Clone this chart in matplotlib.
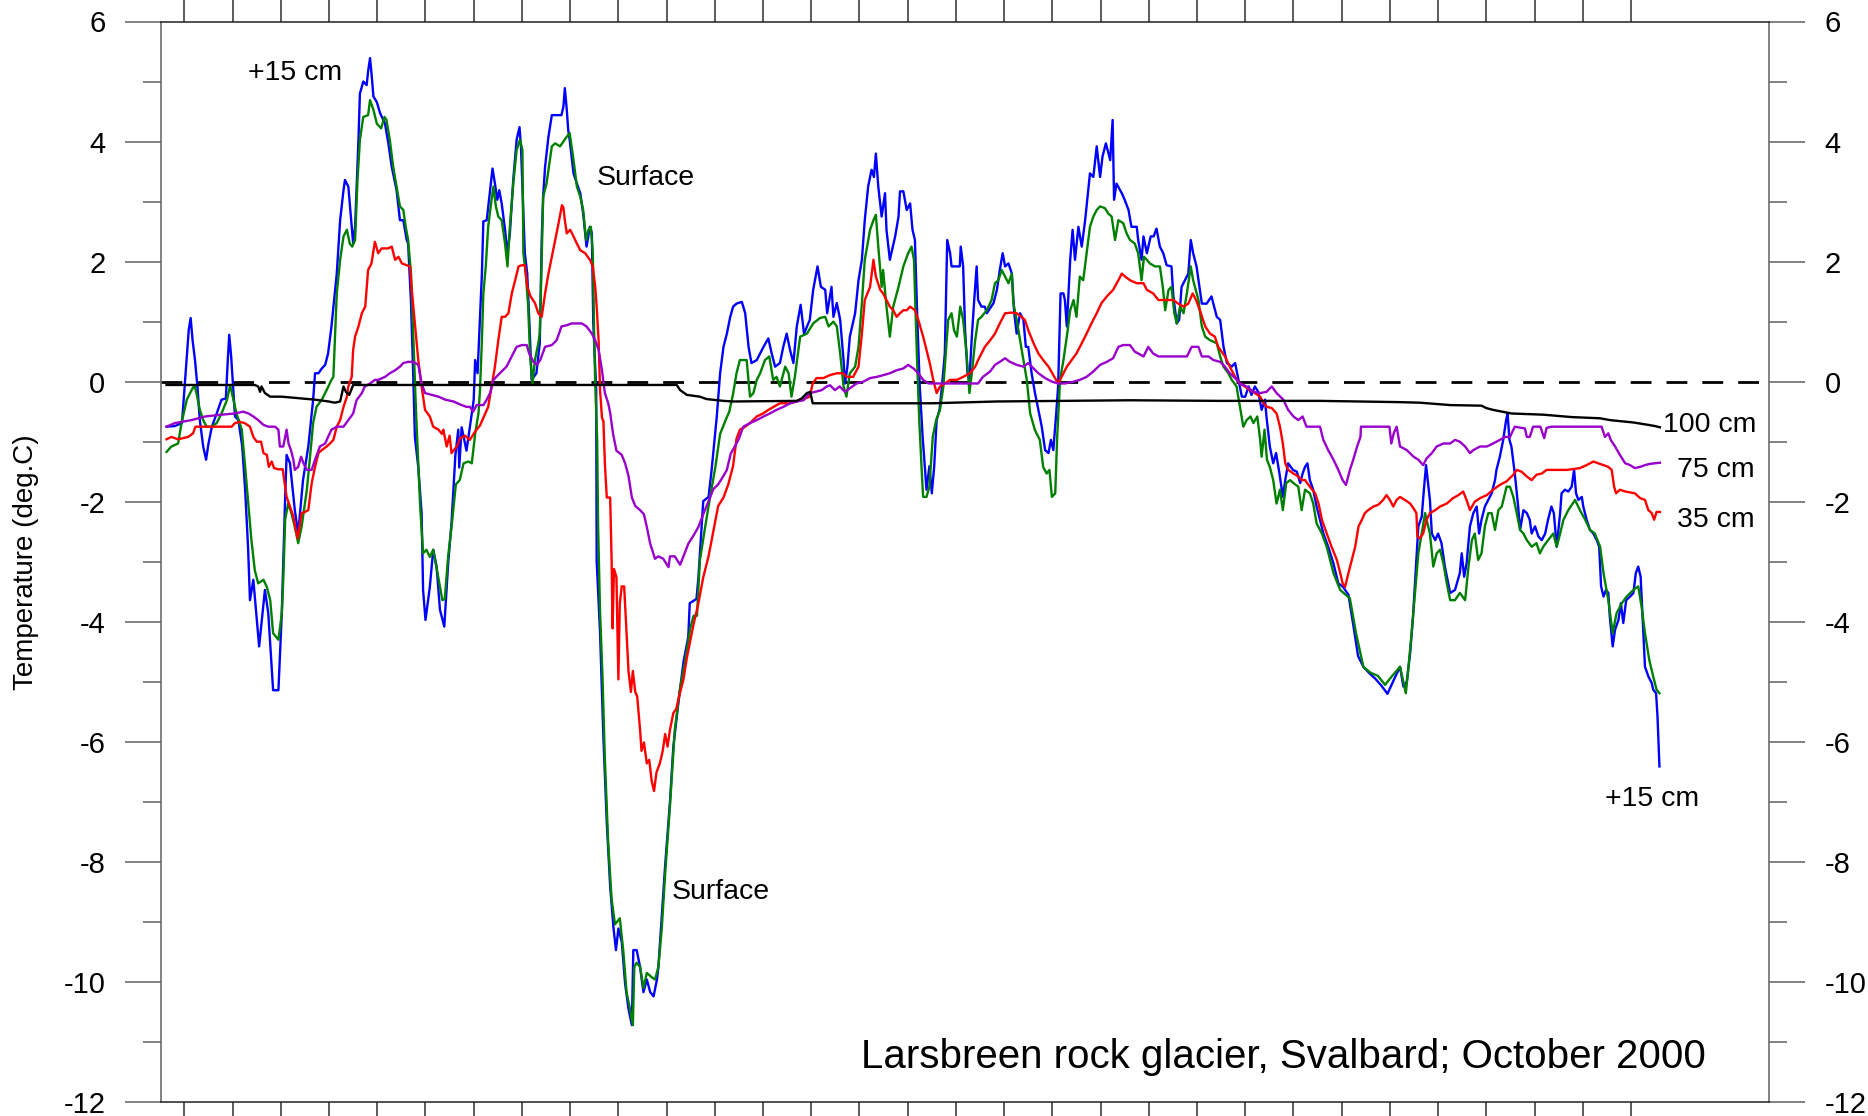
import numpy as np
import matplotlib
matplotlib.use("Agg")
import matplotlib.pyplot as plt

plt.rcParams['font.family'] = ['Liberation Sans', 'DejaVu Sans']
plt.rcParams['axes.unicode_minus'] = False

# temperatures (deg C) against day of October 2000, read from the logger record
plus15_cm = [
    (0.63, -0.75), (0.80, -0.74), (0.95, -0.69), (1.05, 0.42), (1.09, 0.86), (1.13, 1.06),
    (1.17, 0.69), (1.22, 0.36), (1.27, -0.08), (1.32, -0.64), (1.39, -1.08), (1.45, -1.30),
    (1.50, -1.03), (1.57, -0.75), (1.67, -0.53), (1.77, -0.30), (1.86, -0.28), (1.90, 0.36),
    (1.93, 0.78), (1.97, 0.42), (2.01, -0.08), (2.05, -0.58), (2.12, -0.64), (2.20, -1.08),
    (2.26, -1.80), (2.32, -2.75), (2.36, -3.64), (2.43, -3.30), (2.55, -4.41), (2.67, -3.47),
    (2.74, -3.86), (2.84, -5.14), (2.95, -5.14), (3.02, -3.86), (3.09, -1.92), (3.12, -1.22),
    (3.19, -1.36), (3.29, -2.14), (3.36, -2.53), (3.46, -1.64), (3.57, -1.08), (3.67, -0.30),
    (3.71, 0.14), (3.78, 0.14), (3.85, 0.22), (3.92, 0.28), (3.98, 0.47), (4.05, 0.92),
    (4.16, 1.80), (4.23, 2.69), (4.30, 3.19), (4.33, 3.36), (4.40, 3.25), (4.47, 2.58),
    (4.50, 2.30), (4.54, 2.58), (4.61, 4.03), (4.64, 4.80), (4.71, 5.00), (4.78, 4.94),
    (4.81, 5.17), (4.85, 5.39), (4.88, 5.14), (4.92, 4.75), (4.99, 4.66), (5.06, 4.47),
    (5.16, 4.30), (5.23, 3.97), (5.30, 3.58), (5.40, 3.19), (5.47, 2.69), (5.54, 2.69),
    (5.61, 2.36), (5.64, 2.30), (5.70, 1.31), (5.75, 0.00), (5.78, -0.92), (5.85, -1.42),
    (5.92, -2.20), (5.95, -3.47), (6.00, -3.97), (6.09, -3.42), (6.16, -2.80), (6.23, -3.08),
    (6.30, -3.80), (6.39, -4.08), (6.47, -3.03), (6.54, -2.35), (6.62, -1.22), (6.68, -0.80),
    (6.70, -1.43), (6.75, -0.76), (6.85, -1.15), (6.92, -0.76), (7.00, -0.30), (7.03, 0.36),
    (7.08, 0.14), (7.13, 1.08), (7.17, 1.80), (7.20, 2.67), (7.27, 2.69), (7.34, 3.19),
    (7.39, 3.55), (7.44, 3.30), (7.49, 3.03), (7.53, 3.19), (7.58, 2.97), (7.65, 2.53),
    (7.70, 2.14), (7.75, 2.47), (7.82, 3.36), (7.89, 4.03), (7.95, 4.24), (7.98, 3.92),
    (8.06, 2.14), (8.11, 1.80), (8.17, 0.69), (8.20, 0.03), (8.30, 0.14), (8.37, 0.64),
    (8.41, 2.36), (8.44, 3.08), (8.48, 3.58), (8.55, 4.08), (8.62, 4.44), (8.82, 4.44),
    (8.86, 4.58), (8.89, 4.89), (8.93, 4.53), (8.96, 4.19), (8.99, 4.03), (9.07, 3.47),
    (9.14, 3.30), (9.21, 3.14), (9.27, 2.80), (9.34, 2.25), (9.41, 2.58), (9.45, 2.47),
    (9.48, 0.97), (9.54, -0.14), (9.55, -2.98), (9.62, -4.18), (9.69, -5.94), (9.76, -7.35),
    (9.83, -8.41), (9.90, -9.11), (9.95, -9.47), (10.00, -9.11), (10.07, -9.33), (10.14, -10.03),
    (10.21, -10.45), (10.28, -10.72), (10.31, -9.47), (10.38, -9.47), (10.45, -9.75), (10.52, -10.17),
    (10.59, -9.96), (10.66, -10.17), (10.73, -10.24), (10.80, -9.96), (10.83, -9.75), (10.90, -8.90),
    (10.97, -8.06), (11.07, -7.00), (11.14, -6.08), (11.24, -5.38), (11.35, -4.67), (11.45, -4.25),
    (11.48, -3.69), (11.62, -3.62), (11.66, -3.26), (11.76, -1.99), (11.87, -1.92), (11.93, -1.50),
    (12.04, -0.59), (12.11, 0.14), (12.18, 0.58), (12.25, 0.80), (12.32, 1.08), (12.38, 1.25),
    (12.45, 1.30), (12.56, 1.33), (12.63, 1.14), (12.70, 0.58), (12.76, 0.31), (12.87, 0.36),
    (13.01, 0.58), (13.11, 0.72), (13.18, 0.47), (13.25, 0.25), (13.35, 0.31), (13.42, 0.58),
    (13.49, 0.80), (13.56, 0.53), (13.63, 0.31), (13.70, 0.92), (13.78, 1.28), (13.85, 0.80),
    (13.97, 1.03), (14.04, 1.53), (14.13, 1.92), (14.20, 1.58), (14.29, 1.53), (14.33, 1.14),
    (14.42, 1.58), (14.46, 1.08), (14.53, 1.31), (14.60, 1.03), (14.67, 0.36), (14.70, -0.03),
    (14.75, 0.25), (14.80, 0.75), (14.91, 1.14), (14.98, 1.69), (15.05, 2.03), (15.11, 2.69),
    (15.18, 3.25), (15.25, 3.53), (15.30, 3.41), (15.34, 3.80), (15.39, 3.25), (15.46, 2.75),
    (15.53, 3.14), (15.56, 2.53), (15.63, 2.03), (15.74, 2.42), (15.81, 2.75), (15.84, 3.17),
    (15.91, 3.17), (15.98, 2.86), (16.05, 2.97), (16.10, 2.53), (16.15, 2.36), (16.20, 1.03),
    (16.25, -0.08), (16.31, -0.92), (16.36, -1.47), (16.39, -1.80), (16.45, -1.41), (16.50, -1.86),
    (16.55, -1.41), (16.60, -0.64), (16.66, -0.47), (16.71, -0.08), (16.77, 0.47), (16.82, 2.36),
    (16.88, 2.14), (16.91, 1.92), (17.08, 1.92), (17.10, 2.25), (17.15, 1.92), (17.19, 0.86),
    (17.24, 0.14), (17.28, 0.03), (17.33, 0.75), (17.38, 1.36), (17.43, 1.92), (17.46, 1.36),
    (17.53, 1.25), (17.60, 1.25), (17.64, 1.14), (17.78, 1.31), (17.85, 1.53), (17.91, 1.86),
    (17.97, 2.14), (18.02, 1.92), (18.09, 1.97), (18.16, 1.80), (18.21, 1.14), (18.26, 0.80),
    (18.33, 1.14), (18.40, 1.03), (18.45, 0.58), (18.50, 0.58), (18.57, 0.14), (18.64, -0.19),
    (18.71, -0.47), (18.78, -0.75), (18.85, -1.14), (18.92, -1.19), (18.97, -0.97), (19.02, -1.14),
    (19.08, -0.53), (19.12, -0.08), (19.17, 1.47), (19.23, 1.47), (19.26, 1.36), (19.30, 0.92),
    (19.37, 2.03), (19.42, 2.53), (19.47, 2.03), (19.54, 2.58), (19.61, 2.25), (19.68, 2.69),
    (19.73, 3.08), (19.78, 3.47), (19.85, 3.41), (19.92, 3.92), (19.99, 3.41), (20.04, 3.75),
    (20.11, 3.97), (20.20, 3.69), (20.25, 4.36), (20.28, 3.03), (20.33, 3.30), (20.44, 3.14),
    (20.50, 3.03), (20.58, 2.86), (20.64, 2.58), (20.75, 2.58), (20.78, 2.36), (20.85, 2.03),
    (20.89, 2.42), (20.96, 2.14), (21.04, 2.42), (21.10, 2.42), (21.16, 2.55), (21.23, 2.25),
    (21.30, 2.14), (21.37, 1.94), (21.47, 1.92), (21.51, 1.42), (21.58, 0.97), (21.63, 1.03),
    (21.68, 1.58), (21.75, 1.69), (21.82, 1.80), (21.87, 2.36), (21.92, 2.14), (21.99, 1.92),
    (22.10, 1.30), (22.20, 1.30), (22.30, 1.42), (22.41, 1.08), (22.48, 1.03), (22.55, 0.58),
    (22.62, 0.31), (22.72, 0.25), (22.79, 0.31), (22.86, 0.03), (22.93, -0.25), (23.00, -0.25),
    (23.07, -0.08), (23.13, -0.22), (23.20, -0.08), (23.27, -0.17), (23.34, -0.47), (23.41, -0.30),
    (23.44, -0.58), (23.51, -1.08), (23.58, -1.36), (23.64, -1.19), (23.71, -1.53), (23.78, -1.92),
    (23.83, -1.64), (23.89, -1.36), (23.99, -1.47), (24.07, -1.50), (24.14, -1.69), (24.19, -1.53),
    (24.24, -1.42), (24.29, -1.36), (24.34, -1.64), (24.41, -1.80), (24.48, -2.08), (24.55, -2.30),
    (24.62, -2.53), (24.72, -2.75), (24.83, -3.03), (24.93, -3.36), (25.03, -3.42), (25.14, -3.55),
    (25.25, -4.10), (25.34, -4.57), (25.45, -4.75), (25.59, -4.87), (25.70, -4.95), (25.83, -5.07),
    (25.95, -5.20), (26.08, -4.97), (26.21, -4.75), (26.28, -5.08), (26.35, -5.00), (26.42, -4.52),
    (26.48, -3.91), (26.54, -3.08), (26.59, -2.41), (26.66, -2.25), (26.71, -1.75), (26.75, -1.39),
    (26.80, -1.75), (26.83, -1.97), (26.87, -2.53), (26.94, -2.64), (27.00, -2.53), (27.07, -2.69),
    (27.14, -3.08), (27.25, -3.52), (27.35, -3.47), (27.45, -3.19), (27.49, -2.86), (27.54, -3.25),
    (27.59, -3.03), (27.66, -2.41), (27.73, -2.19), (27.80, -2.08), (27.85, -2.53), (27.90, -2.30),
    (27.97, -2.08), (28.04, -1.97), (28.11, -1.86), (28.18, -1.64), (28.21, -1.47), (28.28, -1.25),
    (28.35, -0.97), (28.41, -0.64), (28.44, -0.53), (28.48, -0.97), (28.52, -1.08), (28.59, -1.53),
    (28.66, -2.08), (28.70, -2.47), (28.77, -2.14), (28.84, -2.19), (28.90, -2.30), (28.94, -2.53),
    (29.01, -2.41), (29.08, -2.58), (29.15, -2.64), (29.22, -2.53), (29.28, -2.30), (29.35, -2.08),
    (29.40, -2.19), (29.46, -2.75), (29.53, -2.19), (29.56, -1.86), (29.63, -1.80), (29.70, -1.83),
    (29.77, -1.75), (29.82, -1.47), (29.86, -1.86), (29.91, -1.97), (29.98, -1.92), (30.01, -2.08),
    (30.08, -2.30), (30.15, -2.47), (30.22, -2.53), (30.29, -2.64), (30.34, -2.75), (30.38, -3.41),
    (30.43, -3.58), (30.48, -3.47), (30.53, -3.52), (30.56, -3.91), (30.62, -4.41), (30.67, -4.13),
    (30.74, -3.97), (30.79, -3.69), (30.84, -4.02), (30.90, -3.64), (30.98, -3.58), (31.05, -3.52),
    (31.10, -3.19), (31.15, -3.08), (31.20, -3.25), (31.24, -3.91), (31.29, -4.75), (31.36, -4.91),
    (31.43, -5.02), (31.46, -5.13), (31.52, -5.19), (31.55, -5.58), (31.59, -6.41),
]

surface = [
    (0.63, -1.17), (0.73, -1.08), (0.87, -1.03), (0.94, -0.69), (1.05, -0.30), (1.15, -0.14),
    (1.21, -0.06), (1.25, -0.19), (1.32, -0.47), (1.39, -0.64), (1.46, -0.75), (1.56, -0.75),
    (1.67, -0.69), (1.77, -0.53), (1.88, -0.31), (1.95, -0.06), (2.02, -0.31), (2.08, -0.53),
    (2.19, -0.80), (2.26, -1.42), (2.33, -2.08), (2.39, -2.64), (2.46, -3.14), (2.53, -3.36),
    (2.64, -3.30), (2.71, -3.42), (2.78, -3.64), (2.84, -4.19), (2.95, -4.30), (3.02, -3.86),
    (3.05, -3.30), (3.09, -2.30), (3.15, -2.03), (3.22, -2.19), (3.29, -2.42), (3.36, -2.69),
    (3.43, -2.42), (3.54, -1.80), (3.60, -1.30), (3.67, -0.69), (3.74, -0.42), (3.85, -0.30),
    (3.95, -0.14), (4.05, 0.03), (4.09, 0.08), (4.16, 1.47), (4.23, 2.03), (4.30, 2.42),
    (4.37, 2.53), (4.43, 2.30), (4.48, 2.25), (4.54, 2.36), (4.59, 3.36), (4.64, 4.03),
    (4.71, 4.41), (4.81, 4.44), (4.85, 4.69), (4.92, 4.53), (4.99, 4.30), (5.08, 4.22),
    (5.15, 4.41), (5.19, 4.36), (5.26, 4.03), (5.33, 3.58), (5.40, 3.25), (5.47, 2.92),
    (5.54, 2.86), (5.59, 2.58), (5.64, 2.36), (5.70, 1.80), (5.75, 0.69), (5.80, -0.42),
    (5.82, -0.81), (5.89, -2.08), (5.95, -2.86), (6.02, -2.80), (6.09, -2.92), (6.16, -2.80),
    (6.25, -3.19), (6.35, -3.64), (6.40, -3.62), (6.47, -2.91), (6.54, -2.42), (6.63, -1.71),
    (6.71, -1.64), (6.79, -1.36), (6.89, -1.33), (6.96, -1.36), (7.03, -0.87), (7.10, -0.52),
    (7.13, -0.14), (7.17, 0.69), (7.20, 1.47), (7.25, 1.92), (7.30, 2.58), (7.37, 3.03),
    (7.41, 3.25), (7.46, 2.92), (7.51, 2.75), (7.58, 2.69), (7.65, 2.30), (7.70, 1.92),
    (7.75, 2.58), (7.82, 3.30), (7.89, 3.86), (7.96, 4.03), (8.01, 3.86), (8.03, 2.14),
    (8.08, 1.80), (8.13, 1.25), (8.17, 0.42), (8.22, -0.03), (8.27, 0.36), (8.34, 0.64),
    (8.37, 0.80), (8.41, 2.03), (8.44, 3.08), (8.51, 3.30), (8.62, 3.92), (8.69, 3.97),
    (8.79, 3.92), (8.86, 4.00), (8.93, 4.08), (8.99, 4.14), (9.07, 3.69), (9.14, 3.25),
    (9.21, 3.08), (9.27, 2.86), (9.33, 2.36), (9.38, 2.53), (9.43, 2.58), (9.47, 2.14),
    (9.50, 0.69), (9.52, -0.03), (9.56, -0.97), (9.58, -2.42), (9.62, -3.83), (9.67, -4.89),
    (9.72, -6.29), (9.79, -7.70), (9.86, -8.62), (9.93, -9.04), (10.03, -8.94), (10.10, -9.47),
    (10.17, -10.17), (10.24, -10.45), (10.30, -10.72), (10.33, -9.75), (10.38, -9.68), (10.45, -9.75),
    (10.52, -10.10), (10.59, -9.85), (10.69, -9.92), (10.76, -9.96), (10.83, -9.75), (10.90, -9.11),
    (10.97, -8.20), (11.07, -7.07), (11.17, -5.80), (11.28, -5.10), (11.38, -4.67), (11.49, -4.11),
    (11.56, -3.90), (11.63, -3.90), (11.69, -2.98), (11.80, -2.42), (11.90, -1.93), (12.01, -1.43),
    (12.11, -0.87), (12.18, -0.73), (12.25, -0.59), (12.30, -0.50), (12.38, -0.20), (12.45, 0.14),
    (12.52, 0.36), (12.66, 0.36), (12.73, -0.25), (12.80, -0.19), (12.87, 0.03), (12.94, 0.14),
    (13.04, 0.36), (13.13, 0.42), (13.21, 0.03), (13.28, 0.08), (13.35, -0.08), (13.46, 0.25),
    (13.53, 0.14), (13.59, -0.25), (13.66, 0.08), (13.77, 0.75), (13.91, 0.80), (14.04, 0.97),
    (14.18, 1.06), (14.29, 1.08), (14.36, 0.92), (14.46, 1.00), (14.53, 0.92), (14.60, 0.47),
    (14.67, -0.08), (14.73, -0.25), (14.80, 0.14), (14.91, 0.25), (14.98, 0.58), (15.05, 1.31),
    (15.11, 2.03), (15.22, 2.53), (15.29, 2.69), (15.34, 2.78), (15.39, 2.25), (15.46, 1.58),
    (15.49, 1.86), (15.56, 1.25), (15.63, 0.75), (15.70, 1.25), (15.81, 1.58), (15.91, 1.92),
    (16.01, 2.14), (16.08, 2.25), (16.13, 2.03), (16.19, 0.47), (16.24, -0.64), (16.29, -1.47),
    (16.32, -1.92), (16.39, -1.92), (16.45, -1.75), (16.52, -0.92), (16.59, -0.64), (16.67, -0.47),
    (16.74, -0.08), (16.84, 1.03), (16.91, 1.14), (16.96, 0.86), (17.02, 0.75), (17.09, 1.25),
    (17.15, 1.03), (17.22, 0.47), (17.28, -0.19), (17.33, 0.14), (17.40, 0.69), (17.46, 1.03),
    (17.53, 1.08), (17.64, 1.19), (17.74, 1.36), (17.81, 1.64), (17.88, 1.69), (17.95, 1.86),
    (18.02, 1.75), (18.09, 1.64), (18.16, 1.80), (18.19, 1.31), (18.26, 1.03), (18.33, 0.69),
    (18.40, 0.36), (18.47, 0.03), (18.54, -0.53), (18.64, -0.81), (18.74, -0.97), (18.81, -1.42),
    (18.88, -1.53), (18.94, -1.47), (18.99, -1.92), (19.06, -1.86), (19.10, -0.92), (19.16, 0.03),
    (19.23, 0.36), (19.30, 0.75), (19.37, 1.19), (19.44, 1.36), (19.50, 1.08), (19.57, 1.75),
    (19.64, 1.69), (19.71, 2.14), (19.78, 2.58), (19.85, 2.75), (19.92, 2.86), (19.99, 2.92),
    (20.09, 2.89), (20.16, 2.80), (20.23, 2.75), (20.30, 2.36), (20.37, 2.69), (20.47, 2.64),
    (20.54, 2.47), (20.61, 2.36), (20.71, 2.30), (20.78, 2.14), (20.85, 1.69), (20.90, 2.08),
    (20.96, 2.03), (21.02, 1.97), (21.13, 1.92), (21.23, 1.92), (21.29, 1.58), (21.34, 1.19),
    (21.41, 1.53), (21.47, 1.58), (21.53, 1.14), (21.58, 0.97), (21.65, 1.25), (21.72, 1.14),
    (21.79, 1.47), (21.87, 1.92), (21.92, 1.69), (22.03, 1.36), (22.10, 0.92), (22.17, 0.75),
    (22.27, 0.69), (22.41, 0.64), (22.48, 0.42), (22.55, 0.25), (22.65, 0.14), (22.72, 0.03),
    (22.82, -0.08), (22.89, -0.42), (22.96, -0.75), (23.03, -0.64), (23.11, -0.58), (23.17, -0.69),
    (23.25, -0.58), (23.31, -0.97), (23.34, -1.25), (23.40, -0.80), (23.45, -1.30), (23.51, -1.42),
    (23.58, -1.64), (23.65, -2.03), (23.72, -1.80), (23.78, -2.14), (23.85, -1.69), (23.93, -1.64),
    (24.00, -1.69), (24.10, -1.75), (24.17, -2.14), (24.24, -1.80), (24.34, -1.86), (24.41, -2.03),
    (24.48, -2.36), (24.59, -2.53), (24.69, -2.75), (24.83, -3.19), (24.97, -3.47), (25.17, -3.61),
    (25.30, -4.20), (25.45, -4.75), (25.60, -4.85), (25.75, -4.90), (25.90, -5.05), (26.05, -4.90),
    (26.21, -4.75), (26.28, -5.00), (26.33, -5.19), (26.38, -4.80), (26.45, -4.19), (26.52, -3.52),
    (26.59, -2.86), (26.66, -2.53), (26.73, -2.19), (26.76, -2.30), (26.83, -2.53), (26.90, -3.08),
    (26.97, -2.86), (27.04, -2.80), (27.11, -3.03), (27.18, -3.36), (27.25, -3.64), (27.35, -3.64),
    (27.45, -3.52), (27.56, -3.64), (27.63, -3.08), (27.70, -2.64), (27.76, -2.53), (27.83, -2.97),
    (27.90, -2.86), (27.97, -2.41), (28.04, -2.19), (28.11, -2.19), (28.18, -2.47), (28.25, -2.14),
    (28.32, -2.08), (28.42, -1.75), (28.49, -1.75), (28.56, -1.92), (28.63, -2.19), (28.70, -2.47),
    (28.77, -2.53), (28.84, -2.64), (28.94, -2.75), (29.04, -2.69), (29.11, -2.86), (29.18, -2.75),
    (29.28, -2.64), (29.39, -2.53), (29.46, -2.75), (29.53, -2.53), (29.60, -2.30), (29.70, -2.14),
    (29.84, -1.97), (29.94, -2.14), (30.05, -2.30), (30.15, -2.47), (30.25, -2.53), (30.36, -2.75),
    (30.43, -3.19), (30.53, -3.64), (30.62, -4.19), (30.70, -3.86), (30.81, -3.69), (30.91, -3.58),
    (31.05, -3.47), (31.15, -3.41), (31.22, -3.75), (31.29, -4.19), (31.38, -4.64), (31.46, -4.91),
    (31.53, -5.13), (31.59, -5.19),
]

depth_35cm = [
    (0.63, -0.96), (0.73, -0.92), (0.87, -0.96), (1.08, -0.92), (1.18, -0.86), (1.23, -0.75),
    (1.63, -0.75), (1.98, -0.75), (2.05, -0.69), (2.15, -0.67), (2.25, -0.69), (2.36, -0.75),
    (2.43, -0.92), (2.50, -1.00), (2.59, -1.00), (2.64, -1.19), (2.71, -1.22), (2.75, -1.42),
    (2.81, -1.33), (2.86, -1.44), (2.95, -1.46), (3.04, -1.46), (3.07, -1.64), (3.12, -1.92),
    (3.19, -2.08), (3.26, -2.25), (3.31, -2.47), (3.35, -2.61), (3.40, -2.36), (3.43, -2.19),
    (3.50, -2.17), (3.57, -2.14), (3.64, -1.69), (3.71, -1.42), (3.78, -1.19), (3.85, -1.14),
    (3.95, -1.08), (4.02, -1.03), (4.09, -0.97), (4.16, -0.75), (4.23, -0.64), (4.30, -0.42),
    (4.37, -0.25), (4.40, -0.08), (4.47, 0.08), (4.50, 0.53), (4.54, 0.75), (4.61, 0.92),
    (4.68, 1.14), (4.75, 1.25), (4.81, 1.86), (4.88, 1.97), (4.95, 2.33), (5.02, 2.14),
    (5.09, 2.22), (5.23, 2.22), (5.30, 2.25), (5.37, 2.03), (5.44, 2.08), (5.51, 1.97),
    (5.61, 1.94), (5.68, 1.92), (5.71, 1.58), (5.78, 0.97), (5.85, 0.36), (5.92, -0.08),
    (5.99, -0.47), (6.09, -0.58), (6.16, -0.75), (6.27, -0.80), (6.34, -0.87), (6.37, -0.80),
    (6.44, -1.08), (6.50, -0.90), (6.54, -1.19), (6.65, -1.08), (6.72, -0.94), (6.82, -0.90),
    (6.92, -0.97), (7.03, -0.83), (7.13, -0.73), (7.23, -0.55), (7.30, -0.42), (7.37, -0.08),
    (7.44, 0.25), (7.51, 0.69), (7.58, 1.08), (7.65, 1.08), (7.72, 1.14), (7.79, 1.47),
    (7.86, 1.69), (7.93, 1.92), (8.00, 1.94), (8.06, 1.94), (8.11, 1.58), (8.18, 1.42),
    (8.27, 1.31), (8.34, 1.14), (8.41, 1.08), (8.48, 1.47), (8.55, 1.80), (8.62, 2.08),
    (8.69, 2.36), (8.76, 2.64), (8.83, 2.94), (8.86, 2.90), (8.89, 2.69), (8.93, 2.47),
    (9.00, 2.53), (9.07, 2.42), (9.14, 2.30), (9.21, 2.19), (9.31, 2.14), (9.41, 2.03),
    (9.47, 1.92), (9.52, 1.58), (9.55, 1.25), (9.59, 0.69), (9.62, -0.14), (9.66, -0.60),
    (9.69, -0.66), (9.72, -1.36), (9.76, -1.93), (9.83, -1.93), (9.86, -2.98), (9.88, -4.11),
    (9.91, -3.12), (9.96, -3.26), (10.00, -4.96), (10.03, -3.69), (10.07, -3.41), (10.12, -3.41),
    (10.17, -4.18), (10.21, -4.82), (10.26, -5.17), (10.30, -4.82), (10.35, -5.17), (10.39, -5.24),
    (10.45, -5.80), (10.48, -6.15), (10.53, -6.01), (10.59, -6.36), (10.64, -6.30), (10.69, -6.65),
    (10.74, -6.82), (10.79, -6.51), (10.86, -6.36), (10.92, -6.15), (10.97, -5.87), (11.02, -6.08),
    (11.07, -5.80), (11.14, -5.52), (11.20, -5.45), (11.26, -5.24), (11.35, -4.96), (11.42, -4.60),
    (11.49, -4.32), (11.56, -4.04), (11.66, -3.69), (11.76, -3.26), (11.87, -2.91), (11.97, -2.49),
    (12.07, -2.07), (12.18, -1.93), (12.28, -1.71), (12.38, -1.40), (12.45, -0.95), (12.52, -0.80),
    (12.63, -0.75), (12.73, -0.69), (12.87, -0.58), (13.00, -0.53), (13.11, -0.47), (13.22, -0.42),
    (13.35, -0.36), (13.56, -0.36), (13.77, -0.31), (13.97, -0.25), (14.03, -0.03), (14.11, 0.06),
    (14.25, 0.06), (14.39, 0.11), (14.53, 0.14), (14.66, 0.14), (14.73, 0.08), (14.87, 0.08),
    (14.98, 0.25), (15.05, 0.80), (15.11, 1.36), (15.22, 1.58), (15.29, 2.03), (15.34, 1.75),
    (15.43, 1.53), (15.49, 1.47), (15.56, 1.36), (15.63, 1.25), (15.70, 1.19), (15.77, 1.08),
    (15.84, 1.14), (15.91, 1.19), (15.98, 1.19), (16.05, 1.25), (16.15, 1.19), (16.22, 1.03),
    (16.32, 0.75), (16.39, 0.53), (16.46, 0.30), (16.53, 0.03), (16.60, -0.19), (16.67, -0.08),
    (16.77, -0.03), (16.88, 0.03), (17.02, 0.03), (17.15, 0.08), (17.29, 0.14), (17.40, 0.25),
    (17.46, 0.36), (17.53, 0.47), (17.60, 0.58), (17.71, 0.69), (17.81, 0.80), (17.91, 0.97),
    (18.02, 1.14), (18.16, 1.15), (18.26, 1.14), (18.36, 1.08), (18.43, 1.03), (18.50, 0.86),
    (18.61, 0.64), (18.71, 0.47), (18.81, 0.36), (18.92, 0.25), (19.02, 0.11), (19.12, -0.03),
    (19.19, 0.08), (19.30, 0.25), (19.40, 0.36), (19.50, 0.47), (19.61, 0.64), (19.71, 0.80),
    (19.81, 0.97), (19.92, 1.14), (20.02, 1.31), (20.13, 1.42), (20.26, 1.53), (20.37, 1.69),
    (20.44, 1.80), (20.51, 1.75), (20.61, 1.69), (20.75, 1.64), (20.89, 1.64), (20.96, 1.53),
    (21.09, 1.47), (21.20, 1.36), (21.30, 1.36), (21.51, 1.36), (21.61, 1.30), (21.72, 1.25),
    (21.82, 1.30), (21.91, 1.47), (21.98, 1.36), (22.06, 1.19), (22.17, 0.92), (22.27, 0.80),
    (22.37, 0.75), (22.44, 0.58), (22.58, 0.42), (22.68, 0.25), (22.79, 0.08), (22.89, -0.03),
    (22.99, -0.08), (23.10, -0.14), (23.20, -0.19), (23.31, -0.25), (23.38, -0.36), (23.45, -0.42),
    (23.55, -0.44), (23.65, -0.53), (23.72, -0.75), (23.78, -1.03), (23.83, -1.36), (23.89, -1.47),
    (24.00, -1.53), (24.10, -1.58), (24.17, -1.64), (24.24, -1.64), (24.34, -1.75), (24.45, -1.86),
    (24.52, -2.03), (24.59, -2.30), (24.69, -2.53), (24.79, -2.75), (24.90, -2.97), (24.97, -3.19),
    (25.02, -3.36), (25.07, -3.42), (25.14, -3.19), (25.21, -2.97), (25.28, -2.75), (25.35, -2.41),
    (25.42, -2.30), (25.48, -2.19), (25.55, -2.14), (25.66, -2.08), (25.76, -2.05), (25.86, -1.97),
    (25.93, -1.89), (26.00, -1.97), (26.07, -2.08), (26.14, -1.97), (26.21, -1.92), (26.31, -1.97),
    (26.42, -2.03), (26.49, -2.11), (26.55, -2.19), (26.57, -2.58), (26.62, -2.61), (26.69, -2.53),
    (26.76, -2.30), (26.83, -2.19), (26.94, -2.14), (27.04, -2.08), (27.18, -2.03), (27.31, -1.94),
    (27.42, -1.89), (27.52, -1.83), (27.59, -1.97), (27.66, -2.14), (27.76, -2.00), (27.87, -1.94),
    (28.01, -1.89), (28.14, -1.80), (28.28, -1.72), (28.42, -1.66), (28.56, -1.55), (28.63, -1.47),
    (28.73, -1.50), (28.84, -1.58), (28.94, -1.64), (29.04, -1.55), (29.15, -1.53), (29.25, -1.47),
    (29.67, -1.47), (29.94, -1.44), (30.08, -1.39), (30.22, -1.33), (30.32, -1.36), (30.43, -1.39),
    (30.53, -1.42), (30.60, -1.47), (30.65, -1.75), (30.69, -1.86), (30.77, -1.80), (30.88, -1.83),
    (31.08, -1.86), (31.19, -1.94), (31.29, -1.97), (31.36, -2.14), (31.43, -2.19), (31.48, -2.30),
    (31.53, -2.17), (31.60, -2.17),
]

depth_75cm = [
    (0.63, -0.75), (0.80, -0.69), (0.94, -0.67), (1.15, -0.64), (1.43, -0.58), (1.77, -0.55),
    (2.05, -0.53), (2.22, -0.50), (2.33, -0.53), (2.43, -0.58), (2.53, -0.64), (2.64, -0.72),
    (2.74, -0.75), (2.88, -0.75), (2.95, -0.80), (2.98, -1.08), (3.05, -1.08), (3.12, -0.80),
    (3.16, -1.03), (3.21, -1.14), (3.26, -1.30), (3.29, -1.47), (3.36, -1.42), (3.42, -1.25),
    (3.47, -1.36), (3.54, -1.47), (3.64, -1.47), (3.71, -1.30), (3.81, -1.08), (3.92, -1.03),
    (3.98, -0.92), (4.05, -0.80), (4.16, -0.75), (4.30, -0.75), (4.40, -0.64), (4.50, -0.53),
    (4.57, -0.31), (4.68, -0.19), (4.74, -0.08), (4.85, -0.03), (4.95, 0.03), (5.02, 0.03),
    (5.16, 0.08), (5.26, 0.14), (5.37, 0.19), (5.47, 0.25), (5.54, 0.31), (5.64, 0.33),
    (5.75, 0.33), (5.85, 0.28), (5.92, -0.03), (5.99, -0.19), (6.13, -0.22), (6.27, -0.25),
    (6.41, -0.30), (6.58, -0.33), (6.72, -0.38), (6.85, -0.42), (6.92, -0.42), (6.99, -0.50),
    (7.06, -0.39), (7.20, -0.39), (7.27, -0.30), (7.34, -0.19), (7.41, 0.03), (7.54, 0.14),
    (7.68, 0.25), (7.75, 0.36), (7.82, 0.47), (7.89, 0.58), (8.00, 0.61), (8.10, 0.61),
    (8.15, 0.47), (8.24, 0.33), (8.31, 0.28), (8.38, 0.36), (8.48, 0.58), (8.62, 0.61),
    (8.72, 0.69), (8.82, 0.92), (8.93, 0.94), (9.03, 0.97), (9.24, 0.97), (9.34, 0.92),
    (9.45, 0.80), (9.52, 0.69), (9.59, 0.53), (9.66, 0.19), (9.72, -0.19), (9.79, -0.36),
    (9.83, -0.52), (9.89, -0.87), (9.96, -1.15), (10.07, -1.22), (10.14, -1.36), (10.21, -1.57),
    (10.28, -1.93), (10.35, -2.07), (10.45, -2.14), (10.53, -2.21), (10.59, -2.42), (10.66, -2.70),
    (10.76, -2.95), (10.83, -2.91), (10.93, -2.95), (11.04, -3.09), (11.07, -2.91), (11.17, -2.91),
    (11.28, -3.05), (11.35, -2.91), (11.45, -2.70), (11.56, -2.56), (11.66, -2.42), (11.76, -2.21),
    (11.87, -1.99), (11.97, -1.79), (12.07, -1.71), (12.18, -1.57), (12.25, -1.47), (12.33, -1.20),
    (12.40, -1.10), (12.49, -0.97), (12.59, -0.75), (12.73, -0.69), (12.87, -0.64), (13.01, -0.58),
    (13.14, -0.53), (13.28, -0.47), (13.42, -0.42), (13.56, -0.36), (13.70, -0.33), (13.84, -0.31),
    (13.97, -0.19), (14.08, -0.17), (14.22, -0.14), (14.32, -0.08), (14.39, -0.06), (14.49, -0.14),
    (14.59, -0.08), (14.70, -0.17), (14.80, -0.11), (14.94, -0.03), (15.08, 0.00), (15.22, 0.06),
    (15.36, 0.08), (15.50, 0.11), (15.63, 0.14), (15.77, 0.19), (15.91, 0.22), (16.01, 0.28),
    (16.12, 0.22), (16.22, 0.14), (16.32, 0.03), (16.43, -0.03), (16.90, -0.03), (17.46, -0.03),
    (17.56, 0.08), (17.71, 0.17), (17.81, 0.28), (17.91, 0.33), (18.02, 0.39), (18.12, 0.33),
    (18.26, 0.28), (18.40, 0.25), (18.50, 0.31), (18.61, 0.22), (18.71, 0.14), (18.85, 0.06),
    (18.99, 0.00), (19.12, -0.03), (19.26, -0.03), (19.44, 0.00), (19.57, 0.03), (19.71, 0.08),
    (19.85, 0.17), (19.99, 0.28), (20.13, 0.33), (20.26, 0.39), (20.37, 0.58), (20.47, 0.61),
    (20.61, 0.61), (20.71, 0.50), (20.78, 0.47), (20.89, 0.42), (20.99, 0.58), (21.09, 0.47),
    (21.20, 0.42), (21.50, 0.42), (21.79, 0.42), (21.89, 0.58), (22.03, 0.58), (22.10, 0.42),
    (22.24, 0.42), (22.34, 0.36), (22.48, 0.33), (22.58, 0.25), (22.68, 0.14), (22.79, 0.06),
    (22.89, -0.03), (23.03, -0.08), (23.17, -0.17), (23.31, -0.19), (23.44, -0.17), (23.55, -0.08),
    (23.65, -0.19), (23.79, -0.30), (23.89, -0.47), (24.00, -0.58), (24.10, -0.64), (24.19, -0.58),
    (24.27, -0.75), (24.55, -0.75), (24.62, -0.97), (24.72, -1.14), (24.83, -1.30), (24.93, -1.47),
    (25.02, -1.64), (25.09, -1.72), (25.17, -1.47), (25.24, -1.30), (25.32, -1.08), (25.39, -0.92),
    (25.40, -0.75), (25.93, -0.75), (25.99, -0.75), (26.03, -1.03), (26.08, -0.86), (26.14, -0.75),
    (26.21, -1.08), (26.35, -1.14), (26.49, -1.25), (26.59, -1.30), (26.69, -1.39), (26.76, -1.28),
    (26.87, -1.19), (26.97, -1.08), (27.11, -1.03), (27.25, -1.03), (27.35, -0.97), (27.45, -1.00),
    (27.56, -1.08), (27.66, -1.19), (27.73, -1.14), (27.87, -1.08), (28.01, -1.08), (28.14, -1.03),
    (28.28, -0.97), (28.39, -0.92), (28.49, -0.92), (28.59, -0.75), (28.80, -0.78), (28.84, -0.92),
    (28.90, -0.92), (28.97, -0.75), (29.12, -0.75), (29.20, -0.94), (29.25, -0.77), (29.35, -0.75),
    (30.39, -0.75), (30.46, -0.92), (30.53, -0.86), (30.58, -0.97), (30.67, -1.08), (30.77, -1.22),
    (30.88, -1.36), (30.98, -1.39), (31.08, -1.44), (31.19, -1.42), (31.29, -1.39), (31.39, -1.37),
    (31.60, -1.35),
]

depth_100cm = [
    (0.63, -0.055), (2.46, -0.055), (2.53, -0.08), (2.57, -0.17), (2.60, -0.08), (2.67, -0.19),
    (2.78, -0.25), (3.02, -0.25), (3.16, -0.26), (3.43, -0.28), (3.71, -0.30), (3.99, -0.33),
    (4.12, -0.35), (4.23, -0.33), (4.30, -0.08), (4.35, -0.17), (4.42, -0.22), (4.50, -0.055),
    (11.21, -0.055), (11.28, -0.14), (11.42, -0.22), (11.69, -0.25), (11.83, -0.29), (12.18, -0.32),
    (12.38, -0.33), (13.70, -0.32), (13.80, -0.28), (13.91, -0.19), (13.98, -0.17), (14.03, -0.36),
    (15.00, -0.36), (16.50, -0.36), (17.85, -0.33), (19.23, -0.32), (20.61, -0.31), (22.48, -0.32),
    (24.55, -0.32), (26.14, -0.34), (26.62, -0.35), (27.25, -0.39), (27.90, -0.40), (28.00, -0.44),
    (28.14, -0.47), (28.52, -0.53), (29.18, -0.55), (29.77, -0.59), (30.36, -0.61), (30.56, -0.64),
    (31.05, -0.68), (31.36, -0.72), (31.50, -0.74), (31.60, -0.76),
]

series = [
    (plus15_cm, '#0000FF'),
    (surface, '#008000'),
    (depth_35cm, '#FF0000'),
    (depth_75cm, '#9900CC'),
    (depth_100cm, '#000000'),
]

# curve labels: text, day, temperature
curve_labels = [
    ('+15 cm', 2.32, 5.03),
    ('Surface', 9.55, 3.28),
    ('Surface', 11.11, -8.61),
    ('100 cm', 31.67, -0.84),
    ('75 cm', 31.95, -1.58),
    ('35 cm', 31.95, -2.42),
    ('+15 cm', 30.46, -7.07),
]
title_text = 'Larsbreen rock glacier, Svalbard; October 2000'

fig = plt.figure(figsize=(18.68, 11.16), dpi=100)
ax = fig.add_axes([161 / 1868, 1 - 1102 / 1116, 1608 / 1868, 1080.5 / 1116])

ax.axhline(0, color='black', lw=2.0, dashes=(7.5, 5.4), zorder=1)

for pts, col in series:
    arr = np.array(pts)
    ax.plot(arr[:, 0], arr[:, 1], color=col, lw=1.7, zorder=2)

ax.set_xlim(0.515, 33.862)
ax.set_ylim(-12, 6)

ax.set_xticks(np.arange(1, 32))
ax.tick_params(axis='x', which='major', direction='out', length=17, width=1.1,
               color='#303030', top=True, bottom=True, labelbottom=False, labeltop=False)

ax.set_yticks(np.arange(-12, 7, 2))
ax.set_yticks(np.arange(-11, 6, 2), minor=True)
ax.tick_params(axis='y', which='major', direction='out', length=26, width=1.1,
               color='#606060', left=True, right=True, labelleft=True, labelright=True,
               labelsize=21, pad=14)
ax.tick_params(axis='y', which='minor', direction='out', length=13, width=1.1,
               color='#606060', left=True, right=True)

for side in ['left', 'right']:
    ax.spines[side].set_color('#606060')
    ax.spines[side].set_linewidth(1.1)
for side in ['top', 'bottom']:
    ax.spines[side].set_color('#202020')
    ax.spines[side].set_linewidth(1.1)

ax.set_ylabel('Temperature (deg.C)', fontsize=20)
ax.yaxis.set_label_coords(-0.076, 0.5)

for txt, d, t in curve_labels:
    ax.text(d, t, txt, fontsize=20.5, ha='left', va='baseline', color='black')

ax.text(32.56, -11.43, title_text, fontsize=29, ha='right', va='baseline', color='black')

fig.savefig('out.png', dpi=100)
